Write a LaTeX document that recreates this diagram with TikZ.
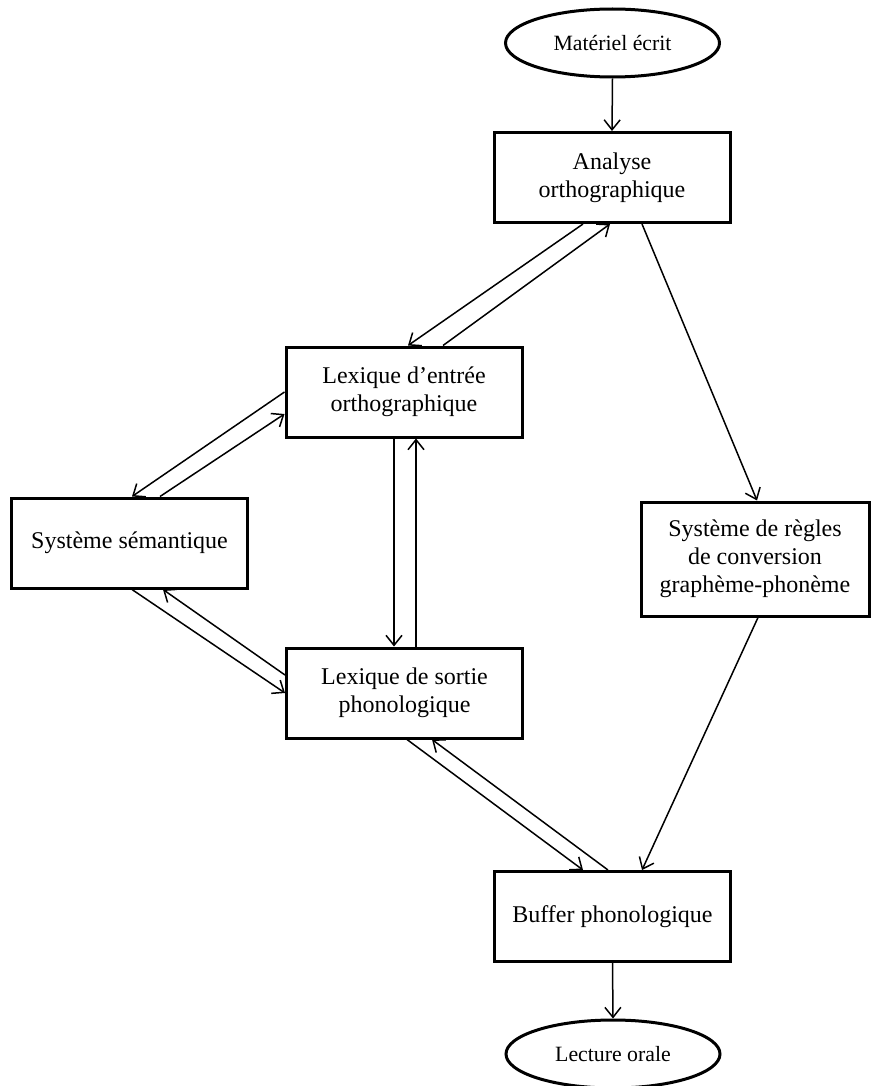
\documentclass[tikz,border=0pt]{standalone}
\usepackage{fontspec}
\setmainfont{Liberation Serif}
\usetikzlibrary{arrows.meta,shapes.geometric}

\begin{document}
\begin{tikzpicture}[x=0.5pt,y=-0.5pt,
  box/.style={draw, line width=1.5pt, rectangle, minimum width=118pt, minimum height=45pt, align=center, font=\fontsize{12}{14}\selectfont, inner sep=0pt},
  oval/.style={draw, line width=1.5pt, ellipse, minimum width=107pt, minimum height=34pt, inner sep=0pt, font=\fontsize{10.9}{12}\selectfont},
  flow/.style={line width=0.75pt, >={Straight Barb[length=5pt,width=8pt]}, ->}]
\useasboundingbox (0,0) rectangle (871,1086);
\node[oval] (ecrit) at (612.5,43) {Matériel écrit};
\node[box] (ana) at (612,177.5) {Analyse\\orthographique};
\node[box] (lexin) at (404,392) {Lexique d’entrée\\orthographique};
\node[box] (sem) at (129.5,543) {Système sémantique};
\node[box, minimum width=114pt, minimum height=57pt] (gpc) at (755,559) {Système de règles\\de conversion\\graphème-phonème};
\node[box] (lexout) at (404.5,693) {Lexique de sortie\\phonologique};
\node[box] (buf) at (612.5,916.5) {Buffer phonologique};
\node[oval] (orale) at (613,1054) {Lecture orale};
% voie lexicale
\draw [flow] (ecrit.south) -- (ana.north);
\draw [flow] ([xshift=-14.5pt]ana.south) -- ([xshift=2pt]lexin.north);
\draw [flow] ([xshift=19.5pt]lexin.north) -- ([xshift=-1pt]ana.south);
\draw [flow] (lexin.west) -- ([xshift=1.25pt]sem.north);
\draw [flow] ([xshift=15.25pt]sem.north) -- ([yshift=-11pt]lexin.west);
\draw [flow] ([xshift=-5pt]lexin.south) -- ([xshift=-5.25pt]lexout.north);
\draw [flow] ([xshift=5.75pt]lexout.north) -- ([xshift=6pt]lexin.south);
\draw [flow] ([xshift=1.25pt]sem.south) -- (lexout.west);
\draw [flow] ([yshift=9pt]lexout.west) -- ([xshift=16.75pt]sem.south);
\draw [flow] ([xshift=1.25pt]lexout.south) -- ([xshift=-14.75pt]buf.north);
\draw [flow] ([xshift=-2.25pt]buf.north) -- ([xshift=13.75pt]lexout.south);
% voie non lexicale
\draw [flow] ([xshift=15pt]ana.south) -- ([xshift=1pt]gpc.north);
\draw [flow] ([xshift=1.5pt]gpc.south) -- ([xshift=14.75pt]buf.north);
\draw [flow] (buf.south) -- (orale.north);
\end{tikzpicture}
\end{document}
